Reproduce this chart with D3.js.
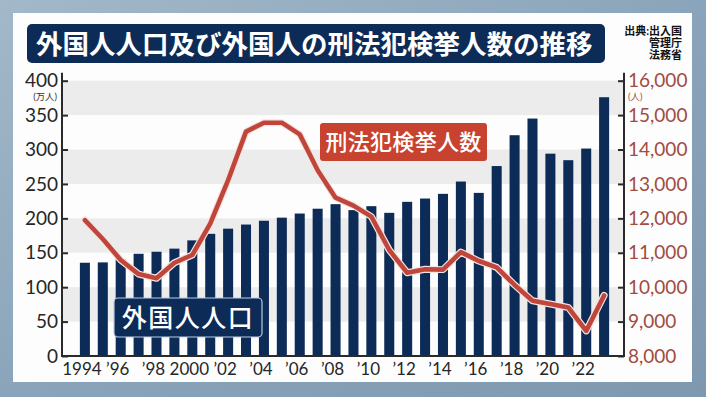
<!DOCTYPE html>
<html><head><meta charset="utf-8">
<script src="https://cdn.jsdelivr.net/npm/d3@7/dist/d3.min.js"></script>
<style>
html,body{margin:0;padding:0;background:#8aa4ba;}
svg{display:block;}
</style></head>
<body>
<svg id="c" width="706" height="397"></svg>
<script>
const years = [1994,1995,1996,1997,1998,1999,2000,2001,2002,2003,2004,2005,2006,2007,2008,2009,2010,2011,2012,2013,2014,2015,2016,2017,2018,2019,2020,2021,2022,2023];
const population = [135.5,136,141,148.5,151.5,156,168,177.5,185,191,196.5,201,207,214,220.6,212,217.7,208,224,228.8,235.6,253.5,237,276,320.8,345,294,284.5,301.4,376];
const arrests = [11950,11400,10790,10380,10260,10710,10935,11850,13110,14520,14780,14780,14440,13400,12600,12370,12050,11080,10420,10520,10510,11020,10760,10575,10065,9605,9510,9410,8730,9760];
const leftTicks = [0,50,100,150,200,250,300,350,400];
const rightTicks = [8000,9000,10000,11000,12000,13000,14000,15000,16000];
const xTickYears = [1994,1996,1998,2000,2002,2004,2006,2008,2010,2012,2014,2016,2018,2020,2022];
const title = "外国人人口及び外国人の刑法犯検挙人数の推移";
const sourceLines = ["出典:出入国","管理庁","法務省"];
const barLabel = "外国人人口";
const lineLabel = "刑法犯検挙人数";
const leftUnit = "(万人)";
const rightUnit = "(人)";

const svg = d3.select("#c");
const W = 706, H = 397;
const plot = {x0: 62, x1: 624, y0: 80.7, y1: 356};
const navy = "#0c2b57", red = "#c0463b";
const font = "Lato, 'Noto Sans CJK JP', sans-serif";
const cjk = "'Noto Sans CJK JP', sans-serif";

// background
const defs = svg.append("defs");
const g0 = defs.append("linearGradient").attr("id","bg").attr("x1",0).attr("y1",0).attr("x2",1).attr("y2",1);
g0.append("stop").attr("offset","0%").attr("stop-color","#a3b8c9");
g0.append("stop").attr("offset","50%").attr("stop-color","#8aa5bb");
g0.append("stop").attr("offset","100%").attr("stop-color","#7d98af");
svg.append("rect").attr("width",W).attr("height",H).attr("fill","url(#bg)");
svg.append("rect").attr("x",13).attr("y",13).attr("width",679).attr("height",369).attr("fill","#fdfdfd");

// scales
const x = d3.scaleBand().domain(years).range([72, 617]).paddingInner(0.44).paddingOuter(0.44);
const yL = d3.scaleLinear().domain([0,400]).range([plot.y1, plot.y0]);
const yR = d3.scaleLinear().domain([8000,16000]).range([plot.y1, plot.y0]);

// bands
const bandPairs = [[350,400],[250,300],[150,200],[50,100]];
svg.append("g").selectAll("rect").data(bandPairs).join("rect")
  .attr("x", plot.x0).attr("width", plot.x1 - plot.x0)
  .attr("y", d => yL(d[1])).attr("height", d => yL(d[0]) - yL(d[1]))
  .attr("fill", "#ececec");

// bars
svg.append("g").selectAll("rect").data(years).join("rect")
  .attr("x", d => x(d)).attr("width", x.bandwidth())
  .attr("y", (d,i) => yL(population[i])).attr("height", (d,i) => yL(0) - yL(population[i]))
  .attr("fill", navy);

// line
const line = d3.line().x((d,i) => x(years[i]) + x.bandwidth()/2).y(d => yR(d));
svg.append("path").attr("d", line(arrests)).attr("fill","none")
  .attr("stroke","#f4e4e2").attr("stroke-width",7).attr("stroke-linejoin","round").attr("stroke-linecap","round");
svg.append("path").attr("d", line(arrests)).attr("fill","none")
  .attr("stroke",red).attr("stroke-width",4.6).attr("stroke-linejoin","round").attr("stroke-linecap","round");

// axes
const axL = svg.append("g").attr("transform",`translate(${plot.x0},0)`)
  .call(d3.axisLeft(yL).tickValues(leftTicks).tickSizeInner(-6).tickSizeOuter(0).tickPadding(4));
const axR = svg.append("g").attr("transform",`translate(${plot.x1},0)`)
  .call(d3.axisRight(yR).tickValues(rightTicks).tickSizeInner(-6).tickSizeOuter(0).tickPadding(4).tickFormat(d3.format(",")));
const axB = svg.append("g").attr("transform",`translate(0,${plot.y1})`)
  .call(d3.axisBottom(x).tickValues(xTickYears).tickSize(0).tickPadding(7)
    .tickFormat(d => d === 1994 || d === 2000 ? String(d) : "\u2019" + String(d).slice(2)));
[axL, axR, axB].forEach(a => {
  a.selectAll(".domain").attr("stroke","#2a2a2a").attr("stroke-width",2);
  a.selectAll(".tick line").attr("stroke","#2a2a2a").attr("stroke-width",2);
});
axB.select(".domain").attr("d", `M${plot.x0 - 1},0H${plot.x1 + 1}`);
axL.select(".domain").attr("d", `M0,${plot.y0 - 8}V${plot.y1}`);
axR.select(".domain").attr("d", `M0,${plot.y0 - 8}V${plot.y1}`);
axL.selectAll("text").attr("font-family",font).attr("font-size",19).attr("fill","#262626");
axR.selectAll("text").attr("font-family",font).attr("font-size",19).attr("fill","#a14b41");
axB.selectAll("text").attr("font-family",font).attr("font-size",17).attr("fill","#262626").attr("dx",-3);

// units
svg.append("text").attr("x",57).attr("y",100.4).attr("text-anchor","end")
  .attr("font-family",font).attr("font-size",9.4).attr("fill","#333").text(leftUnit);
svg.append("text").attr("x",628).attr("y",100.4)
  .attr("font-family",font).attr("font-size",9.4).attr("fill","#a14b41").text(rightUnit);

// title
svg.append("rect").attr("x",27).attr("y",24).attr("width",578).attr("height",39).attr("rx",5).attr("fill",navy);
svg.append("text").attr("x",36).attr("y",54).attr("font-family",cjk).attr("font-weight",700)
  .attr("font-size",26.5).attr("fill","#fff").text(title);

// source
svg.append("g").selectAll("text").data(sourceLines).join("text")
  .attr("x",682).attr("y",(d,i) => 35 + i*11.8).attr("text-anchor","end")
  .attr("font-family",font).attr("font-weight",700).attr("font-size",11).attr("fill","#111")
  .text(d => d);

// legend: bars
svg.append("rect").attr("x",114).attr("y",298).attr("width",148).attr("height",39).attr("rx",4)
  .attr("fill",navy).attr("stroke","#b9cce2").attr("stroke-width",1.2);
svg.append("text").attr("x",188).attr("y",327).attr("text-anchor","middle")
  .attr("font-family",cjk).attr("font-weight",500).attr("font-size",25).attr("letter-spacing",1.5)
  .attr("fill","#fff").text(barLabel);

// legend: line
svg.append("rect").attr("x",320).attr("y",123).attr("width",167).attr("height",38).attr("rx",3).attr("fill","#c8432f");
svg.append("text").attr("x",403.5).attr("y",150).attr("text-anchor","middle")
  .attr("font-family",cjk).attr("font-weight",500).attr("font-size",22).attr("letter-spacing",0.3)
  .attr("fill","#fff").text(lineLabel);
</script>
</body></html>
